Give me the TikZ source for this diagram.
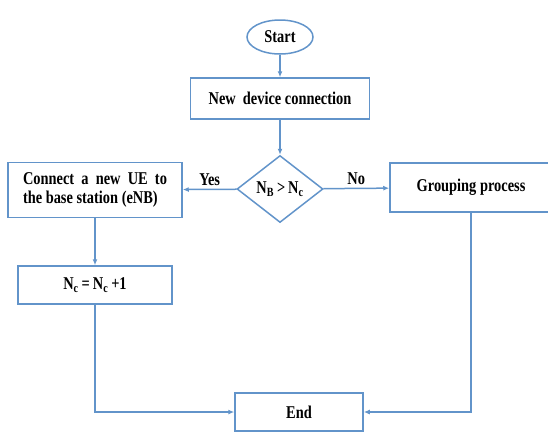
\documentclass[tikz,border=0pt]{standalone}
\usepackage{fontspec}
\setmainfont{Liberation Serif}[FakeStretch=0.8]
\usetikzlibrary{shapes.geometric,arrows.meta}
\definecolor{flowblue}{RGB}{98,148,202}

\begin{document}
\begin{tikzpicture}[x=1pt, y=-1pt, -{Latex[length=6pt,width=5pt]}, line width=1.5pt, draw=flowblue,
        main/.style={draw=flowblue, rectangle, inner sep=0pt, font=\bfseries\fontsize{18}{19}\selectfont},
        edge/.style={midway, above, inner sep=3pt, font=\bfseries\fontsize{18}{19}\selectfont}]

        \useasboundingbox (0,0) rectangle (548,432);

        \node[main, ellipse, minimum width=66pt, minimum height=34pt] (start) at (280,37) {Start};
        \node[main, minimum width=179pt, minimum height=41pt] (new) at (280,98.5) {New\ \ device connection};
        \node[main, diamond, aspect=1.3, minimum width=86pt, minimum height=67pt] (check) at (280,189) {N\textsubscript{B}\,>\,N\textsubscript{c}};
        \node[main, minimum width=174pt, minimum height=55pt, align=left] (connect) at (95,190) {Connect\ \ a\ \ new\ \ UE\ \ to\\the base station (eNB)};
        \node[main, minimum width=162pt, minimum height=49pt] (group) at (471,187.5) {Grouping process};
        \node[main, minimum width=154pt, minimum height=38pt] (count) at (95,285) {N\textsubscript{c}\,=\,N\textsubscript{c}\,+1};
        \node[main, minimum width=128pt, minimum height=38pt] (end) at (299,412) {End};

        \path
            (start) edge (new)
            (new) edge (check)
            (check) edge node[edge] {Yes} (connect)
            (check) edge node[edge] {No} (group)
            (connect) edge (count)
            ;
        \draw (count.south) |- (end.west);
        \draw (group.south) |- (end.east);
\end{tikzpicture}
\end{document}
